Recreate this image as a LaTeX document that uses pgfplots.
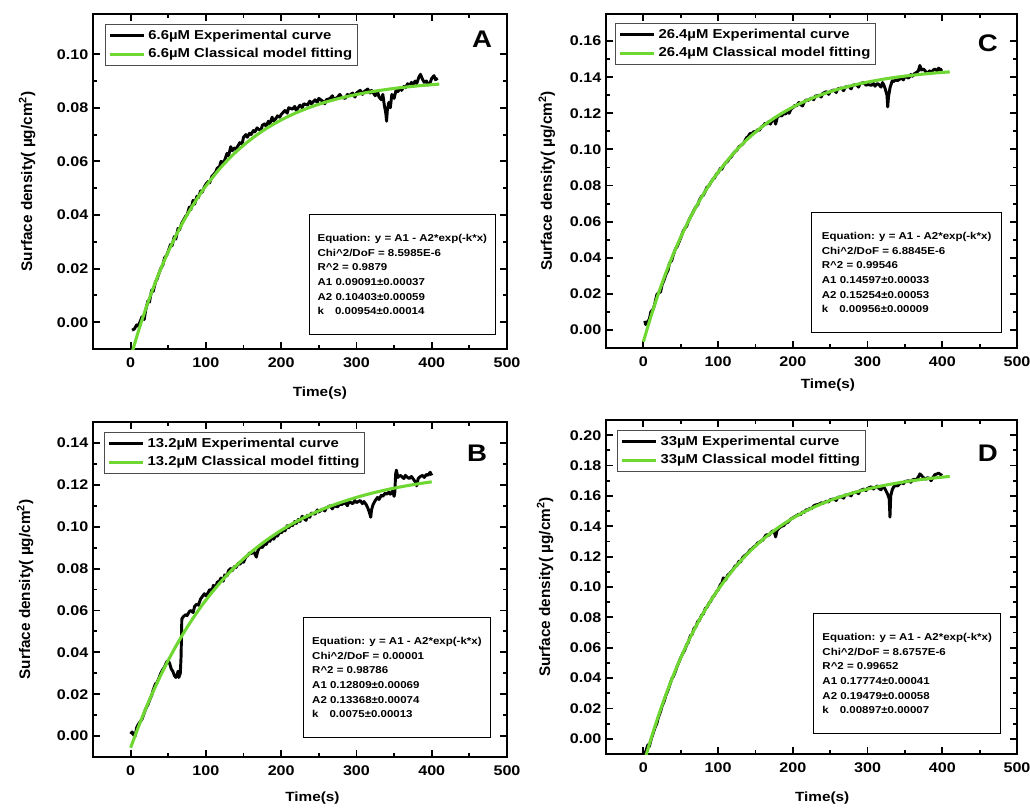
\documentclass[border=0pt]{standalone}
\usepackage{fontspec}
\setmainfont{Liberation Sans}[FakeStretch=1.15]
\newfontfamily\labelfont{Liberation Sans}
\usepackage{pgfplots}
\pgfplotsset{compat=1.18}
\definecolor{fitgreen}{RGB}{110,215,50}

\pgfplotsset{
  panel/.style={
    scale only axis,
    xmin=-50, xmax=500, xtick={0,100,200,300,400,500},
    minor x tick num=1, minor y tick num=1,
    scaled y ticks=false,
    axis line style={line width=1.8pt},
    every tick/.style={line width=1.4pt, black},
    major tick length=5.5pt, minor tick length=3pt,
    tick align=inside,
    /pgf/number format/assume math mode=true,
    tick label style={font=\fontsize{10.5}{12}\selectfont\bfseries},
    yticklabel style={/pgf/number format/fixed, /pgf/number format/fixed zerofill, /pgf/number format/precision=2},
    xticklabel style={yshift=-3pt},
    xlabel={Time(s)},
    ylabel={Surface density( µg/cm\textsuperscript{2})},
    xlabel style={font=\fontsize{10}{12}\selectfont\bfseries, anchor=center},
    ylabel style={font=\labelfont\fontsize{11.5}{13}\selectfont\bfseries, anchor=center},
    legend cell align=left,
    legend style={draw=black!70, line width=0.6pt, font=\fontsize{9.7}{12}\selectfont\bfseries,
      anchor=north west, inner xsep=2pt, inner ysep=2pt, row sep=1.5pt},
    legend image code/.code={\draw[##1] (0pt,0pt) -- (26pt,0pt);},
  },
  expc/.style={black, line width=2.2pt, line join=round},
  fitc/.style={fitgreen, line width=2.3pt, smooth},
}
\newcommand{\panelletter}[2]{\node[font=\fontsize{18}{20}\selectfont\bfseries] at (rel axis cs:#1) {#2};}
\newcommand{\fitbox}[2]{\node[draw, line width=0.8pt, anchor=north west, minimum width=#1, minimum height=90pt,
  inner xsep=6pt, align=left, font=\fontsize{7.5}{11}\selectfont\bfseries] at #2}

\begin{document}
\begin{tikzpicture}
\path[use as bounding box] (0,0) rectangle (772.5pt,606pt);

% ---------- A ----------
\begin{axis}[panel, at={(69.75pt,344.25pt)}, anchor=south west,
  width=310.5pt, height=251.25pt,
  ymin=-0.01, ymax=0.115, ytick={0,0.02,0.04,0.06,0.08,0.10},
  xlabel style={at={(axis description cs:0.548,-0.131)}},
  ylabel style={at={(axis description cs:-0.159,0.5)}},
  legend style={at={(rel axis cs:0.029,0.970)}}]
\addplot[expc] coordinates {
(2,-0.0030) (5,-0.0025) (8,-0.0010) (10,-0.0015) (13,0.0005) (15,0.0020) (18,0.0010) (20,0.0045)
(23,0.0080) (25,0.0075) (28,0.0120) (30,0.0115) (33,0.0150) (35,0.0160) (38,0.0185) (40,0.0200)
(43,0.0215) (45,0.0240) (48,0.0250) (50,0.0265) (53,0.0290) (55,0.0285) (58,0.0320) (60,0.0310)
(63,0.0350) (65,0.0345) (68,0.0370) (70,0.0380) (73,0.0395) (75,0.0400) (78,0.0430) (80,0.0420)
(83,0.0455) (85,0.0440) (88,0.0470) (90,0.0465) (93,0.0490) (95,0.0485) (98,0.0505) (100,0.0515)
(103,0.0525) (105,0.0520) (108,0.0545) (110,0.0550) (113,0.0560) (115,0.0575) (118,0.0580) (120,0.0600)
(123,0.0595) (125,0.0605) (128,0.0630) (130,0.0620) (133,0.0655) (135,0.0640) (138,0.0650) (140,0.0645)
(143,0.0660) (145,0.0670) (148,0.0665) (150,0.0690) (153,0.0700) (155,0.0690) (158,0.0705) (160,0.0700)
(163,0.0715) (165,0.0710) (168,0.0725) (170,0.0720) (173,0.0715) (175,0.0735) (178,0.0740) (180,0.0730)
(183,0.0750) (185,0.0740) (188,0.0765) (190,0.0750) (193,0.0760) (195,0.0770) (198,0.0765) (200,0.0775)
(205,0.0790) (208,0.0780) (210,0.0800) (215,0.0795) (218,0.0805) (220,0.0790) (225,0.0810) (228,0.0800)
(230,0.0815) (235,0.0810) (238,0.0825) (240,0.0815) (245,0.0830) (248,0.0820) (250,0.0835) (255,0.0825)
(258,0.0815) (260,0.0830) (265,0.0835) (268,0.0845) (270,0.0830) (275,0.0840) (278,0.0850) (280,0.0840)
(285,0.0835) (288,0.0850) (290,0.0845) (295,0.0855) (298,0.0840) (300,0.0855) (305,0.0865) (308,0.0850)
(310,0.0860) (315,0.0870) (318,0.0855) (320,0.0865) (325,0.0845) (328,0.0860) (330,0.0840) (333,0.0830)
(335,0.0850) (337,0.0810) (339,0.0780) (340,0.0750) (341,0.0790) (343,0.0820) (345,0.0800) (347,0.0850)
(350,0.0835) (353,0.0870) (355,0.0860) (358,0.0875) (360,0.0865) (363,0.0880) (365,0.0875) (368,0.0890)
(370,0.0880) (373,0.0895) (375,0.0885) (378,0.0900) (380,0.0890) (383,0.0915) (385,0.0925) (388,0.0905)
(390,0.0895) (393,0.0900) (395,0.0885) (398,0.0895) (400,0.0910) (403,0.0920) (405,0.0905) (408,0.0910)
};
\addlegendentry{6.6µM Experimental curve}
\addplot[fitc] coordinates {
(0,-0.01312) (10,-0.00365) (20,0.00495) (30,0.01277) (40,0.01988) (50,0.02634) (60,0.03222) (70,0.03756)
(80,0.04241) (90,0.04682) (100,0.05084) (120,0.05780) (140,0.06355) (160,0.06830) (180,0.07223) (200,0.07547)
(220,0.07815) (240,0.08037) (260,0.08220) (280,0.08371) (300,0.08496) (320,0.08600) (340,0.08685) (360,0.08756)
(380,0.08814) (400,0.08862) (410,0.08883)
};
\addlegendentry{6.6µM Classical model fitting}
\panelletter{0.94,0.925}{A}
\fitbox{136.5pt}{(rel axis cs:0.522,0.403)} {Equation: y = A1 - A2*exp(-k*x)\\
Chi\textasciicircum2/DoF = 8.5985E-6\\ R\textasciicircum2 = 0.9879\\ A1 0.09091±0.00037\\
A2 0.10403±0.00059\\ k\hspace{1.1em}0.00954±0.00014};
\end{axis}

% ---------- C ----------
\begin{axis}[panel, at={(454.5pt,345pt)}, anchor=south west,
  width=308.25pt, height=250.5pt,
  ymin=-0.01, ymax=0.175, ytick={0,0.02,0.04,0.06,0.08,0.10,0.12,0.14,0.16},
  xlabel style={at={(axis description cs:0.54,-0.111)}},
  ylabel style={at={(axis description cs:-0.144,0.5)}},
  legend style={at={(rel axis cs:0.022,0.973)}}]
\addplot[expc] coordinates {
(2,0.0050) (3,0.0030) (5,0.0040) (8,0.0060) (10,0.0100) (13,0.0115) (15,0.0140) (18,0.0195)
(20,0.0205) (23,0.0210) (25,0.0250) (28,0.0280) (30,0.0305) (33,0.0330) (35,0.0370) (38,0.0385)
(40,0.0415) (43,0.0450) (45,0.0460) (48,0.0490) (50,0.0510) (53,0.0545) (55,0.0560) (58,0.0575)
(60,0.0600) (63,0.0625) (65,0.0640) (68,0.0665) (70,0.0680) (73,0.0695) (75,0.0720) (78,0.0740)
(80,0.0745) (83,0.0770) (85,0.0790) (88,0.0800) (90,0.0815) (93,0.0835) (95,0.0840) (98,0.0865)
(100,0.0870) (103,0.0895) (105,0.0890) (108,0.0915) (110,0.0925) (113,0.0935) (115,0.0950) (118,0.0960)
(120,0.0975) (123,0.0990) (125,0.0995) (128,0.1015) (130,0.1020) (133,0.1030) (135,0.1040) (138,0.1065)
(140,0.1070) (143,0.1090) (145,0.1085) (148,0.1100) (150,0.1095) (153,0.1110) (155,0.1105) (158,0.1125)
(160,0.1130) (163,0.1145) (165,0.1140) (168,0.1155) (170,0.1140) (173,0.1165) (175,0.1170) (177,0.1140)
(179,0.1175) (182,0.1190) (185,0.1185) (188,0.1200) (190,0.1195) (193,0.1210) (195,0.1200) (198,0.1225)
(200,0.1230) (203,0.1245) (205,0.1240) (208,0.1260) (210,0.1250) (213,0.1240) (215,0.1260) (218,0.1275)
(220,0.1270) (225,0.1285) (228,0.1275) (230,0.1295) (235,0.1300) (238,0.1290) (240,0.1310) (245,0.1320)
(248,0.1305) (250,0.1320) (255,0.1330) (258,0.1315) (260,0.1335) (265,0.1340) (268,0.1325) (270,0.1345)
(275,0.1350) (278,0.1335) (280,0.1355) (285,0.1360) (288,0.1345) (290,0.1365) (295,0.1370) (298,0.1355)
(300,0.1360) (305,0.1355) (308,0.1365) (310,0.1350) (313,0.1365) (315,0.1360) (318,0.1345) (320,0.1370)
(322,0.1355) (324,0.1330) (326,0.1300) (327,0.1235) (328,0.1290) (330,0.1340) (333,0.1380) (335,0.1375)
(338,0.1390) (340,0.1380) (345,0.1395) (348,0.1385) (350,0.1405) (355,0.1395) (358,0.1415) (360,0.1405)
(363,0.1420) (365,0.1425) (368,0.1435) (370,0.1465) (372,0.1440) (375,0.1445) (378,0.1430) (380,0.1420)
(383,0.1435) (385,0.1425) (388,0.1440) (390,0.1445) (393,0.1435) (395,0.1450) (398,0.1440) (400,0.1445)
};
\addlegendentry{26.4µM Experimental curve}
\addplot[fitc] coordinates {
(0,-0.00657) (10,0.00734) (20,0.01998) (30,0.03147) (40,0.04191) (50,0.05139) (60,0.06001) (70,0.06785)
(80,0.07497) (90,0.08145) (100,0.08733) (120,0.09753) (140,0.10596) (160,0.11292) (180,0.11867) (200,0.12343)
(220,0.12735) (240,0.13059) (260,0.13327) (280,0.13548) (300,0.13730) (320,0.13881) (340,0.14006) (360,0.14109)
(380,0.14194) (400,0.14264) (410,0.14294)
};
\addlegendentry{26.4µM Classical model fitting}
\panelletter{0.929,0.913}{C}
\fitbox{142.5pt}{(rel axis cs:0.499,0.407)} {Equation: y = A1 - A2*exp(-k*x)\\
Chi\textasciicircum2/DoF = 6.8845E-6\\ R\textasciicircum2 = 0.99546\\ A1 0.14597±0.00033\\
A2 0.15254±0.00053\\ k\hspace{1.1em}0.00956±0.00009};
\end{axis}

% ---------- B ----------
\begin{axis}[panel, at={(69.75pt,38.25pt)}, anchor=south west,
  width=310.5pt, height=251.25pt,
  ymin=-0.01, ymax=0.15, ytick={0,0.02,0.04,0.06,0.08,0.10,0.12,0.14},
  xlabel style={at={(axis description cs:0.53,-0.122)}},
  ylabel style={at={(axis description cs:-0.164,0.5)}},
  legend style={at={(rel axis cs:0.027,0.970)}}]
\addplot[expc] coordinates {
(0,0.0010) (2,0.0020) (4,0.0005) (6,0.0000) (8,0.0040) (10,0.0055) (13,0.0070) (15,0.0080)
(18,0.0110) (20,0.0130) (23,0.0150) (25,0.0170) (28,0.0195) (30,0.0220) (33,0.0250) (35,0.0255)
(38,0.0280) (40,0.0300) (43,0.0320) (45,0.0330) (48,0.0355) (50,0.0360) (52,0.0345) (54,0.0320)
(56,0.0310) (58,0.0290) (60,0.0280) (62,0.0295) (63,0.0310) (64,0.0280) (66,0.0300) (67,0.0380)
(68,0.0560) (70,0.0570) (73,0.0580) (75,0.0575) (78,0.0595) (80,0.0600) (83,0.0590) (85,0.0620)
(88,0.0630) (90,0.0625) (93,0.0655) (95,0.0665) (98,0.0680) (100,0.0670) (103,0.0685) (105,0.0700)
(108,0.0695) (110,0.0720) (113,0.0710) (115,0.0735) (118,0.0740) (120,0.0755) (123,0.0740) (125,0.0770)
(128,0.0765) (130,0.0790) (133,0.0800) (135,0.0790) (138,0.0810) (140,0.0805) (143,0.0825) (145,0.0820)
(148,0.0835) (150,0.0830) (153,0.0855) (155,0.0860) (158,0.0875) (160,0.0870) (163,0.0885) (165,0.0870)
(167,0.0855) (169,0.0885) (172,0.0905) (175,0.0900) (178,0.0920) (180,0.0915) (183,0.0935) (185,0.0930)
(188,0.0950) (190,0.0940) (193,0.0960) (195,0.0955) (198,0.0975) (200,0.0970) (203,0.0985) (205,0.0980)
(208,0.1005) (210,0.0995) (213,0.1010) (215,0.1005) (218,0.1025) (220,0.1015) (223,0.1035) (225,0.1025)
(228,0.1050) (230,0.1040) (233,0.1030) (235,0.1055) (238,0.1045) (240,0.1065) (245,0.1060) (248,0.1080)
(250,0.1070) (255,0.1085) (258,0.1075) (260,0.1090) (265,0.1100) (268,0.1085) (270,0.1100) (275,0.1095)
(278,0.1110) (280,0.1105) (285,0.1115) (288,0.1100) (290,0.1120) (295,0.1110) (298,0.1125) (300,0.1115)
(305,0.1125) (308,0.1110) (310,0.1120) (313,0.1105) (315,0.1090) (317,0.1070) (319,0.1045) (320,0.1080)
(322,0.1105) (325,0.1125) (328,0.1140) (330,0.1130) (333,0.1150) (335,0.1145) (338,0.1160) (340,0.1155)
(343,0.1165) (345,0.1155) (348,0.1170) (350,0.1145) (351,0.1165) (352,0.1250) (353,0.1270) (355,0.1235)
(358,0.1245) (360,0.1240) (363,0.1230) (365,0.1245) (368,0.1235) (370,0.1230) (373,0.1240) (375,0.1230)
(378,0.1215) (380,0.1195) (382,0.1230) (385,0.1240) (388,0.1245) (390,0.1235) (393,0.1250) (395,0.1245)
(398,0.1260) (400,0.1245)
};
\addlegendentry{13.2µM Experimental curve}
\addplot[fitc] coordinates {
(0,-0.00559) (10,0.00407) (20,0.01303) (30,0.02134) (40,0.02906) (50,0.03621) (60,0.04285) (70,0.04901)
(80,0.05472) (90,0.06003) (100,0.06494) (120,0.07374) (140,0.08131) (160,0.08783) (180,0.09343) (200,0.09826)
(220,0.10242) (240,0.10599) (260,0.10907) (280,0.11172) (300,0.11400) (320,0.11596) (340,0.11765) (360,0.11911)
(380,0.12036) (400,0.12143)
};
\addlegendentry{13.2µM Classical model fitting}
\panelletter{0.928,0.907}{B}
\fitbox{140.25pt}{(rel axis cs:0.507,0.418)} {Equation: y = A1 - A2*exp(-k*x)\\
Chi\textasciicircum2/DoF = 0.00001\\ R\textasciicircum2 = 0.98786\\ A1 0.12809±0.00069\\
A2 0.13368±0.00074\\ k\hspace{1.1em}0.0075±0.00013};
\end{axis}

% ---------- D ----------
\begin{axis}[panel, at={(454.5pt,40.5pt)}, anchor=south west,
  width=308.25pt, height=250.5pt,
  ymin=-0.01, ymax=0.21, ytick={0,0.02,0.04,0.06,0.08,0.10,0.12,0.14,0.16,0.18,0.20},
  xlabel style={at={(axis description cs:0.526,-0.132)}},
  ylabel style={at={(axis description cs:-0.148,0.5)}},
  legend style={at={(rel axis cs:0.027,0.970)}}]
\addplot[expc] coordinates {
(2,-0.0100) (4,-0.0070) (6,-0.0040) (8,-0.0050) (10,-0.0010) (12,0.0020) (14,0.0050) (16,0.0080)
(18,0.0100) (20,0.0140) (23,0.0180) (25,0.0215) (28,0.0250) (30,0.0285) (33,0.0320) (35,0.0350)
(38,0.0395) (40,0.0410) (43,0.0445) (45,0.0475) (48,0.0510) (50,0.0535) (53,0.0565) (55,0.0580)
(58,0.0620) (60,0.0635) (63,0.0680) (65,0.0685) (68,0.0730) (70,0.0735) (73,0.0775) (75,0.0780)
(78,0.0815) (80,0.0820) (83,0.0860) (85,0.0865) (88,0.0895) (90,0.0905) (93,0.0935) (95,0.0945)
(98,0.0970) (100,0.0980) (103,0.1015) (105,0.1025) (107,0.1060) (110,0.1045) (113,0.1080) (115,0.1085)
(118,0.1105) (120,0.1115) (123,0.1140) (125,0.1140) (128,0.1170) (130,0.1165) (133,0.1195) (135,0.1205)
(138,0.1215) (140,0.1225) (143,0.1245) (145,0.1250) (148,0.1265) (150,0.1270) (153,0.1290) (155,0.1295)
(158,0.1305) (160,0.1310) (163,0.1335) (165,0.1345) (168,0.1340) (170,0.1355) (173,0.1370) (175,0.1365)
(177,0.1330) (179,0.1375) (182,0.1390) (185,0.1400) (188,0.1405) (190,0.1420) (193,0.1425) (195,0.1435)
(198,0.1450) (200,0.1455) (203,0.1465) (205,0.1470) (208,0.1480) (210,0.1475) (213,0.1495) (215,0.1490)
(218,0.1510) (220,0.1505) (223,0.1520) (225,0.1515) (228,0.1535) (230,0.1540) (235,0.1545) (238,0.1555)
(240,0.1550) (245,0.1565) (248,0.1560) (250,0.1575) (255,0.1580) (258,0.1570) (260,0.1590) (265,0.1595)
(268,0.1585) (270,0.1605) (275,0.1610) (278,0.1600) (280,0.1620) (285,0.1625) (288,0.1615) (290,0.1635)
(295,0.1645) (298,0.1635) (300,0.1650) (305,0.1660) (308,0.1645) (310,0.1655) (313,0.1665) (315,0.1650)
(318,0.1640) (320,0.1660) (323,0.1650) (325,0.1630) (327,0.1610) (329,0.1580) (330,0.1460) (331,0.1600)
(333,0.1640) (335,0.1660) (338,0.1670) (340,0.1665) (343,0.1680) (345,0.1690) (348,0.1680) (350,0.1695)
(355,0.1700) (358,0.1690) (360,0.1705) (363,0.1710) (365,0.1705) (368,0.1725) (370,0.1745) (372,0.1735)
(375,0.1720) (378,0.1710) (380,0.1720) (383,0.1715) (385,0.1700) (388,0.1725) (390,0.1740) (393,0.1745)
(395,0.1750) (398,0.1740) (400,0.1735)
};
\addlegendentry{33µM Experimental curve}
\addplot[fitc] coordinates {
(0,-0.01705) (10,-0.00034) (20,0.01494) (30,0.02891) (40,0.04168) (50,0.05335) (60,0.06402) (70,0.07377)
(80,0.08269) (90,0.09085) (100,0.09830) (120,0.11135) (140,0.12225) (160,0.13136) (180,0.13898) (200,0.14535)
(220,0.15067) (240,0.15511) (260,0.15883) (280,0.16193) (300,0.16453) (320,0.16670) (340,0.16851) (360,0.17003)
(380,0.17129) (400,0.17235) (410,0.17282)
};
\addlegendentry{33µM Classical model fitting}
\panelletter{0.929,0.901}{D}
\fitbox{140.25pt}{(rel axis cs:0.504,0.422)} {Equation: y = A1 - A2*exp(-k*x)\\
Chi\textasciicircum2/DoF = 8.6757E-6\\ R\textasciicircum2 = 0.99652\\ A1 0.17774±0.00041\\
A2 0.19479±0.00058\\ k\hspace{1.1em}0.00897±0.00007};
\end{axis}
\end{tikzpicture}
\end{document}
